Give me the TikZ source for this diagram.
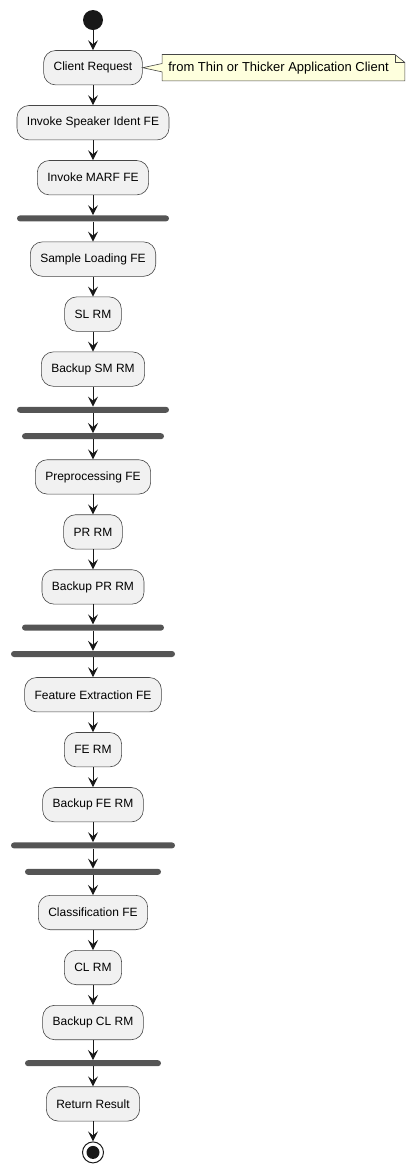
\documentclass[tikz,border=0pt]{standalone}
\usepackage{fontspec}
\setmainfont{Liberation Sans}
\usetikzlibrary{arrows.meta, calc}
\usetikzlibrary{positioning}

\definecolor{actfill}{HTML}{F1F1F1}
\definecolor{linec}{HTML}{181818}
\definecolor{barc}{HTML}{555555}
\definecolor{notefill}{HTML}{FEFFDD}

\begin{document}
\begin{tikzpicture}[
	x = 1pt, y = 1pt,
	> = {Stealth[length=10pt, width=10pt, inset=4pt]}, % arrow head style
	node distance = 20pt, % distance between nodes
	flow/.style = {->, draw=linec, line width=1pt}, % connector style
	font = \fontsize{12}{14}\selectfont
	]
	
	\tikzstyle{activity}=[
	draw = linec!80,
	line width = 0.6pt,
	fill = actfill,
	rounded corners = 12pt,
	minimum height = 34.4pt,
	inner xsep = 10pt
	]
	\tikzstyle{bar}=[
	fill = barc,
	rounded corners = 3pt,
	minimum height = 6pt,
	inner sep = 0pt
	]
	
	\useasboundingbox (0,0) rectangle (415,-1171);
	
	\node[circle, fill=linec, minimum size=20pt, inner sep=0pt] (start) at (93,-20) {};
	\node[activity] (cr) [below=of start] {Client Request};
	\node[inner xsep=6pt, inner ysep=0pt, minimum height=26pt, font=\fontsize{13}{15}\selectfont] (note) [right=19.5pt of cr] {from Thin or Thicker Application Client};
	\node[activity] (isi) [below=of cr] {Invoke Speaker Ident FE};
	\node[activity] (imarf) [below=of isi] {Invoke MARF FE};
	\node[bar, minimum width=152pt] (b1) [below=of imarf] {};
	\node[activity] (slfe) [below=of b1] {Sample Loading FE};
	\node[activity] (slrm) [below=of slfe] {SL RM};
	\node[activity] (bsm) [below=of slrm] {Backup SM RM};
	\node[bar, minimum width=152pt] (b2) [below=of bsm] {};
	\node[bar, minimum width=142pt] (b3) [below=of b2] {};
	\node[activity] (prfe) [below=of b3] {Preprocessing FE};
	\node[activity] (prrm) [below=of prfe] {PR RM};
	\node[activity] (bpr) [below=of prrm] {Backup PR RM};
	\node[bar, minimum width=142pt] (b4) [below=of bpr] {};
	\node[bar, minimum width=164pt] (b5) [below=of b4] {};
	\node[activity] (fefe) [below=of b5] {Feature Extraction FE};
	\node[activity] (ferm) [below=of fefe] {FE RM};
	\node[activity] (bfe) [below=of ferm] {Backup FE RM};
	\node[bar, minimum width=164pt] (b6) [below=of bfe] {};
	\node[bar, minimum width=136pt] (b7) [below=of b6] {};
	\node[activity] (clfe) [below=of b7] {Classification FE};
	\node[activity] (clrm) [below=of clfe] {CL RM};
	\node[activity] (bcl) [below=of clrm] {Backup CL RM};
	\node[bar, minimum width=136pt] (b8) [below=of bcl] {};
	\node[activity] (rr) [below=of b8] {Return Result};
	\node[circle, draw=linec, line width=1pt, minimum size=21pt, inner sep=0pt] (stop) [below=of rr] {};
	\node[circle, fill=linec, minimum size=13pt, inner sep=0pt] (stopdot) at (stop) {};
	
	% note with pointer
	\draw[draw=linec!80, line width=0.6pt, fill=notefill]
		(note.north west) -- ($(note.north east)+(0,0)$) -- ($(note.north east)+(10,-8)$)
		-- ($(note.south east)+(10,0)$) -- (note.south west) -- ($(note.south west)+(0,9)$)
		-- (cr.east) -- ($(note.north west)+(0,-9)$) -- cycle;
	\draw[draw=linec!80, line width=0.6pt] (note.north east) -- ($(note.north east)+(0,-8)$) -- ($(note.north east)+(10,-8)$);
	\node[inner xsep=6pt, inner ysep=0pt, minimum height=26pt, font=\fontsize{13}{15}\selectfont] at (note) {from Thin or Thicker Application Client};
	
	\foreach \a/\b in {start/cr, cr/isi, isi/imarf, imarf/b1, b1/slfe, slfe/slrm, slrm/bsm, bsm/b2, b2/b3, b3/prfe, prfe/prrm, prrm/bpr, bpr/b4, b4/b5, b5/fefe, fefe/ferm, ferm/bfe, bfe/b6, b6/b7, b7/clfe, clfe/clrm, clrm/bcl, bcl/b8, b8/rr, rr/stop}
		\draw[flow] (\a) -- (\b);
	
\end{tikzpicture}
\end{document}
